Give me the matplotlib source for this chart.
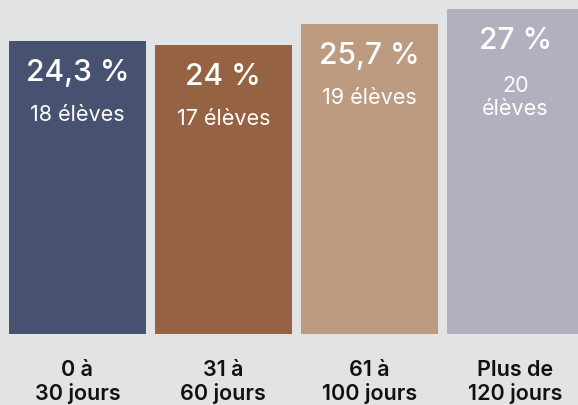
import matplotlib.pyplot as plt

categories = ["0 à\n30 jours", "31 à\n60 jours", "61 à\n100 jours", "Plus de\n120 jours"]
percents = [24.3, 24.0, 25.7, 27.0]
pct_labels = ["24,3 %", "24 %", "25,7 %", "27 %"]
students = [18, 17, 19, 20]
colors = ["#46526f", "#956343", "#bd9b81", "#b0b0be"]

bg = "#e2e3e5"
plt.rcParams['font.family'] = ['Inter', 'DejaVu Sans']

fig = plt.figure(figsize=(5.78, 4.06), dpi=100, facecolor=bg)
ax = fig.add_axes([0, 71/406, 1, 335/406], facecolor=bg)

x = list(range(len(categories)))
ax.bar(x, percents, width=0.94, color=colors)
ax.set_xlim(-0.53, 3.43)
ax.set_ylim(0, 27.8)

for i, p in enumerate(percents):
    ax.annotate(pct_labels[i], (i, p), xytext=(0, -28), textcoords="offset points",
                ha="center", va="baseline", color="white", fontsize=21.5, fontweight="medium")
    txt = f"{students[i]} élèves"
    dy = -57
    if i == 3:
        # the last bar wraps its count onto two lines
        txt = txt.replace(" ", "\n")
        dy = -76
    ax.annotate(txt, (i, p), xytext=(0, dy), textcoords="offset points",
                ha="center", va="baseline", color="white", fontsize=15.5,
                linespacing=1.2)

ax.set_xticks(x)
ax.set_xticklabels(categories, fontsize=15.5, fontweight="semibold", color="#111111",
                   linespacing=1.2)
ax.tick_params(axis="x", length=0, pad=18)
ax.set_yticks([])
for s in ax.spines.values():
    s.set_visible(False)

fig.savefig("out.png", dpi=100, facecolor=bg)
